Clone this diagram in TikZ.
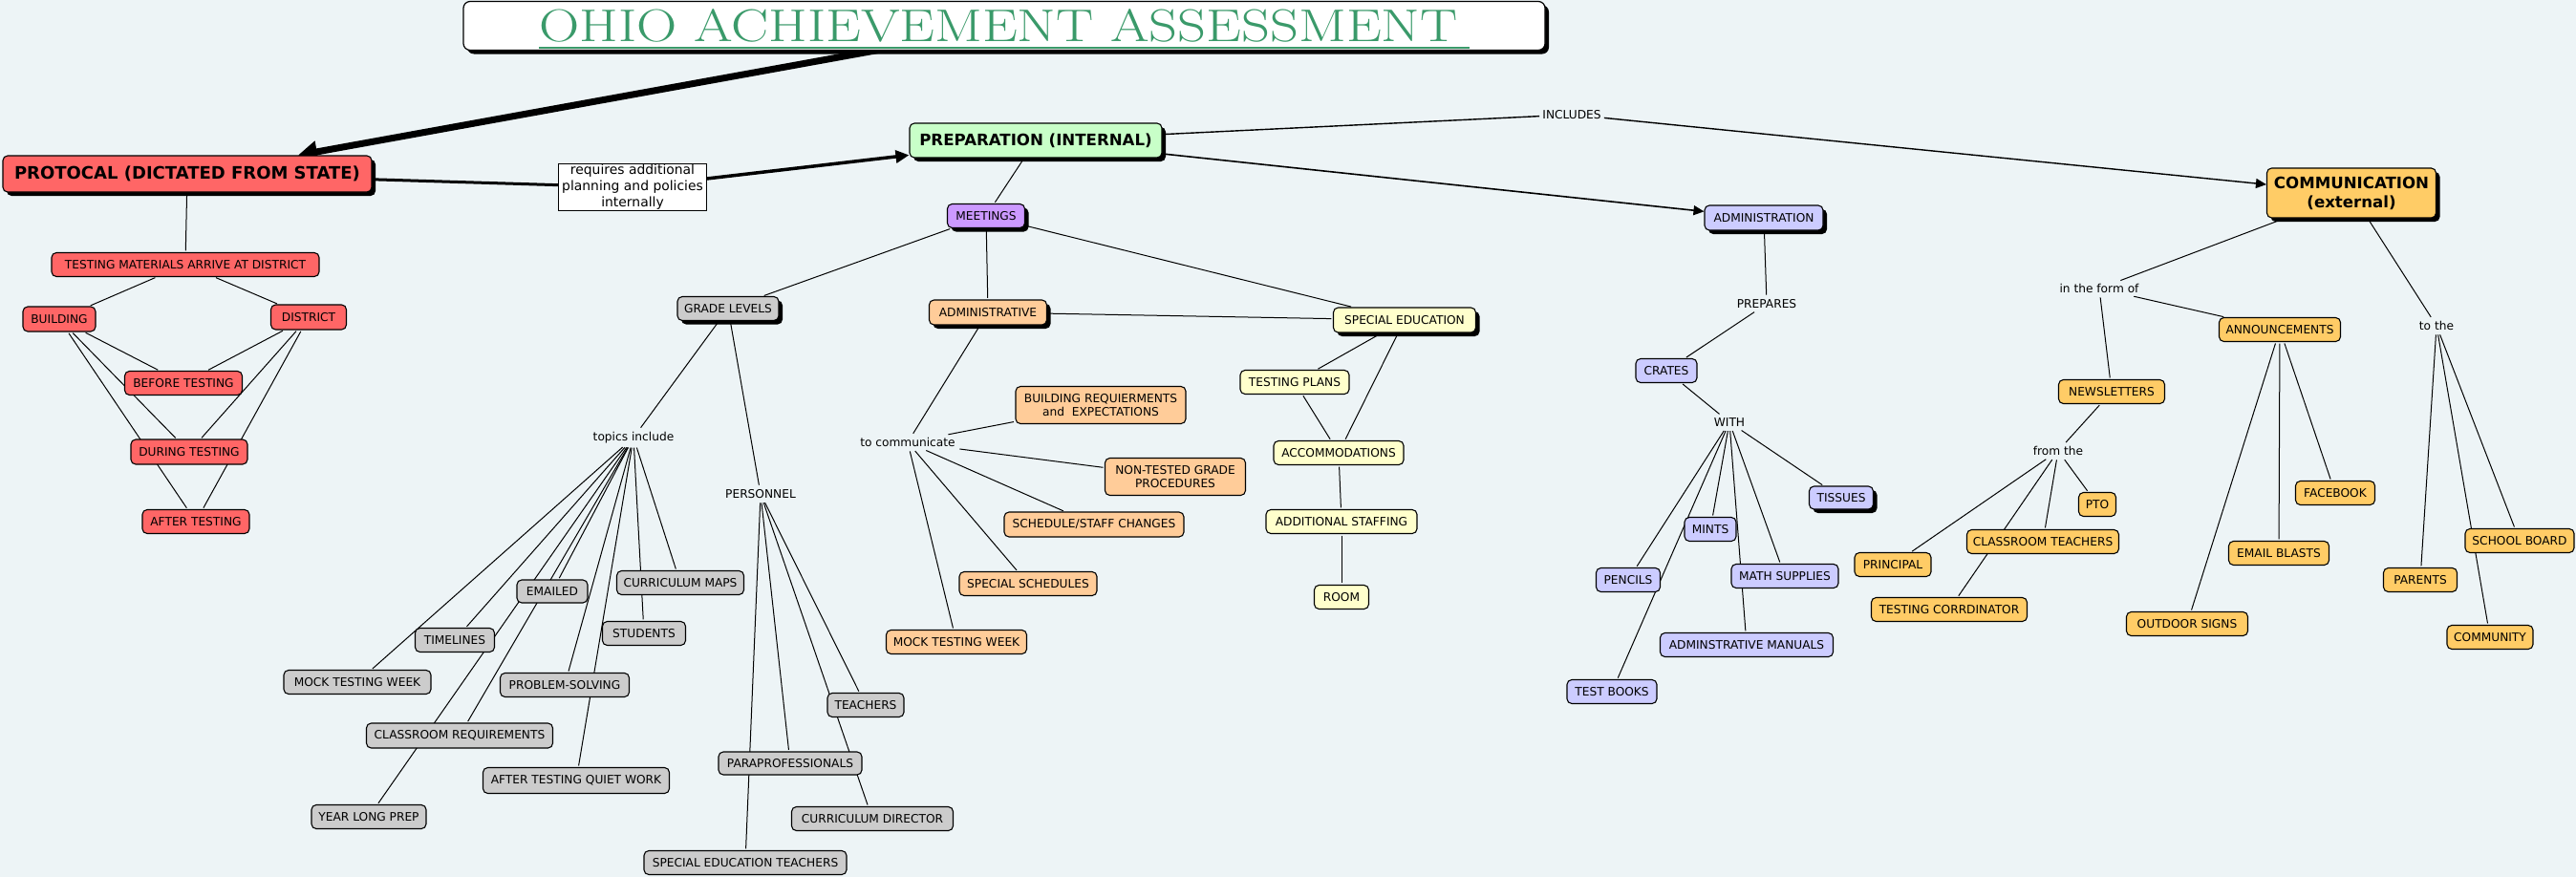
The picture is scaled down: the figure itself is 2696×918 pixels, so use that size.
\documentclass[tikz,border=0pt]{standalone}
\usepackage{fontspec}
\usepackage{graphicx}
\setmainfont{DejaVu Sans}
\usetikzlibrary{arrows.meta,shadows}
\pgfdeclarelayer{bg}\pgfdeclarelayer{edges}\pgfsetlayers{bg,edges,main}
\newcommand\nfont{\fontsize{12.2}{14.3}\selectfont}
\newcommand\bfontL{\fontsize{18}{21}\selectfont\bfseries}
\newcommand\bfontM{\fontsize{16.6}{20}\selectfont\bfseries}
\newcommand\rfont{\fontsize{13.9}{17}\selectfont}
\definecolor{bgc}{HTML}{EDF4F6}
\definecolor{cred}{HTML}{FF6666}
\definecolor{cgreen}{HTML}{C8FFC8}
\definecolor{cpurple}{HTML}{CC99FF}
\definecolor{cpeach}{HTML}{FFCC99}
\definecolor{cyellow}{HTML}{FFFFCC}
\definecolor{cgray}{HTML}{CCCCCC}
\definecolor{cblue}{HTML}{CCCCFF}
\definecolor{corange}{HTML}{FFCC66}
\definecolor{ctitle}{HTML}{3A9A6A}
\begin{document}
\begin{tikzpicture}[x=1pt,y=-1pt,
  cbox/.style={draw=black, line width=1.1pt, rounded corners=5pt, inner xsep=1pt, inner ysep=0pt, minimum height=25pt, align=center, font=\nfont, text=black},
  sh/.style={drop shadow={shadow xshift=4pt, shadow yshift=-4pt, fill=black, opacity=1}},
  rbox/.style={cbox, fill=cred},
  gbox/.style={cbox, fill=cgray},
  pbox/.style={cbox, fill=cpeach},
  ybox/.style={cbox, fill=cyellow},
  bbox/.style={cbox, fill=cblue},
  obox/.style={cbox, fill=corange},
  lab/.style={font=\nfont, inner sep=3pt, text=black},
  conn/.style={line width=1pt, shorten <=1.5pt, shorten >=1.5pt}]
\useasboundingbox (0,0) rectangle (2696,918);
\begin{pgfonlayer}{bg}
\fill[bgc] (0,0) rectangle (2696,918);
\end{pgfonlayer}
% title
\node[draw=black, line width=1.2pt, rounded corners=7pt, fill=white, sh, minimum width=1132pt, minimum height=51pt, inner sep=0] (title) at (1051,27) {};
\node[inner sep=0, anchor=base, text=ctitle] (ttext) at (1045,43) {\scalebox{1.22}[1]{\fontfamily{lmr}\fontsize{48}{50}\selectfont OHIO ACHIEVEMENT ASSESSMENT}};
\draw[ctitle, line width=1.8pt] ([yshift=-7pt]ttext.base west) -- ([xshift=12pt,yshift=-7pt]ttext.base east);
% main concepts
\node[rbox, sh, minimum width=386pt, minimum height=38pt, font=\bfontL] (prot) at (196,182) {PROTOCAL (DICTATED FROM STATE)};
\node[draw=black, line width=1pt, fill=white, minimum width=155pt, minimum height=49pt, inner sep=0, align=center, font=\rfont] (req) at (662,196) {requires additional\\planning and policies\\internally};
\node[cbox, sh, fill=cgreen, minimum width=264pt, minimum height=36pt, font=\bfontM] (prep) at (1084,147) {PREPARATION (INTERNAL)};
\node[obox, sh, minimum width=177pt, minimum height=52pt, font=\bfontM] (comm) at (2461,202) {COMMUNICATION\\(external)};
% protocal subtree
\node[rbox, minimum width=280pt] (tmad) at (194,277) {TESTING MATERIALS ARRIVE AT DISTRICT};
\node[rbox, minimum width=76pt, minimum height=26pt] (bld) at (62,334) {BUILDING};
\node[rbox, minimum width=79pt, minimum height=26pt] (dst) at (323,332) {DISTRICT};
\node[rbox, minimum width=123pt] (bef) at (192,401) {BEFORE TESTING};
\node[rbox, minimum width=122pt, minimum height=26pt] (dur) at (198,473) {DURING TESTING};
\node[rbox, minimum width=112pt] (aft) at (205,546) {AFTER TESTING};
% preparation subtree
\node[cbox, sh, fill=cpurple, minimum width=81pt] (meet) at (1032,226) {MEETINGS};
\node[gbox, sh, minimum width=106pt] (gl) at (762,323) {GRADE LEVELS};
\node[pbox, sh, minimum width=123pt, minimum height=26pt] (adm) at (1034,327) {ADMINISTRATIVE};
\node[ybox, sh, minimum width=149pt, minimum height=26pt] (se) at (1470,335) {SPECIAL EDUCATION};
\node[bbox, sh, minimum width=124pt, minimum height=26pt] (admn) at (1846,228) {ADMINISTRATION};
% linking phrases
\node[lab] (incl) at (1645,120) {INCLUDES};
\node[lab] (prepares) at (1849,318) {PREPARES};
\node[lab] (with) at (1810,442) {WITH};
\node[lab] (inform) at (2197,302) {in the form of};
\node[lab] (tothe) at (2550,341) {to the};
\node[lab] (fromthe) at (2154,472) {from the};
\node[lab] (tocomm) at (950,463) {to communicate};
\node[lab] (tinc) at (663,458) {topics include};
\node[lab] (pers) at (796,517) {PERSONNEL};
% grade levels
\node[gbox, minimum width=74pt, minimum height=24pt] (em) at (578,619) {EMAILED};
\node[gbox, minimum width=133pt] (cm) at (712,610) {CURRICULUM MAPS};
\node[gbox, minimum width=83pt] (tl) at (476,670) {TIMELINES};
\node[gbox, minimum width=87pt] (stu) at (674,663) {STUDENTS};
\node[gbox, minimum width=135pt] (ps) at (591,717) {PROBLEM-SOLVING};
\node[gbox, minimum width=154pt] (mtwa) at (374,714) {MOCK TESTING WEEK};
\node[gbox, minimum width=195pt, minimum height=26pt] (cr) at (481,770) {CLASSROOM REQUIREMENTS};
\node[gbox, minimum width=195pt, minimum height=27pt] (atqw) at (603,817) {AFTER TESTING QUIET WORK};
\node[gbox, minimum width=120pt] (ylp) at (386,855) {YEAR LONG PREP};
\node[gbox, minimum width=80pt] (tea) at (906,738) {TEACHERS};
\node[gbox, minimum width=150pt, minimum height=24pt] (para) at (827,799) {PARAPROFESSIONALS};
\node[gbox, minimum width=169pt] (cd) at (913,857) {CURRICULUM DIRECTOR};
\node[gbox, minimum width=212pt] (setch) at (780,903) {SPECIAL EDUCATION TEACHERS};
% administrative
\node[pbox, minimum width=178pt, minimum height=39pt] (breq) at (1152,424) {BUILDING REQUIERMENTS\\and\ \ EXPECTATIONS};
\node[pbox, minimum width=147pt, minimum height=39pt] (ntg) at (1230,499) {NON-TESTED GRADE\\PROCEDURES};
\node[pbox, minimum width=188pt, minimum height=26pt] (ssc) at (1145,549) {SCHEDULE/STAFF CHANGES};
\node[pbox, minimum width=144pt] (ssch) at (1076,611) {SPECIAL SCHEDULES};
\node[pbox, minimum width=147pt] (mtwb) at (1001,672) {MOCK TESTING WEEK};
% special education
\node[ybox, minimum width=114pt] (tp) at (1355,400) {TESTING PLANS};
\node[ybox, minimum width=136pt] (acc) at (1401,474) {ACCOMMODATIONS};
\node[ybox, minimum width=158pt] (ast) at (1404,546) {ADDITIONAL STAFFING};
\node[ybox, minimum width=57pt] (room) at (1404,625) {ROOM};
% administration
\node[bbox, minimum width=64pt] (crates) at (1744,388) {CRATES};
\node[bbox, sh, minimum width=67pt, minimum height=24pt] (tis) at (1927,521) {TISSUES};
\node[bbox, minimum width=54pt] (mints) at (1790,554) {MINTS};
\node[bbox, minimum width=67pt] (pen) at (1704,607) {PENCILS};
\node[bbox, minimum width=112pt] (math) at (1868,603) {MATH SUPPLIES};
\node[bbox, minimum width=181pt] (am) at (1828,675) {ADMINSTRATIVE MANUALS};
\node[bbox, minimum width=94pt] (tb) at (1687,724) {TEST BOOKS};
% communication
\node[obox, minimum width=111pt] (news) at (2210,410) {NEWSLETTERS};
\node[obox, minimum width=127pt] (ann) at (2386,345) {ANNOUNCEMENTS};
\node[obox, minimum width=39pt] (pto) at (2195,528) {PTO};
\node[obox, minimum width=159pt] (ct) at (2138,567) {CLASSROOM TEACHERS};
\node[obox, minimum width=80pt] (prin) at (1981,591) {PRINCIPAL};
\node[obox, minimum width=163pt] (tc) at (2040,638) {TESTING CORRDINATOR};
\node[obox, minimum width=127pt] (os) at (2289,653) {OUTDOOR SIGNS};
\node[obox, minimum width=105pt] (eb) at (2385,579) {EMAIL BLASTS};
\node[obox, minimum width=83pt] (fb) at (2444,516) {FACEBOOK};
\node[obox, minimum width=77pt] (par) at (2533,607) {PARENTS};
\node[obox, minimum width=114pt] (sb) at (2637,566) {SCHOOL BOARD};
\node[obox, minimum width=90pt] (cmty) at (2606,667) {COMMUNITY};
% connectors
\begin{pgfonlayer}{edges}
\draw[line width=7pt, -{Triangle[length=20pt,width=22pt]}] ([xshift=-119pt,yshift=3pt]title.south) -- ([xshift=116pt]prot.north);
\draw[line width=3pt] (prot) -- (req);
\draw[line width=3.5pt, -{Triangle[length=14pt,width=13pt]}] (req) -- (prep);
\draw[line width=1.6pt, -{Triangle[length=11pt,width=10pt]}] (prep) -- (admn);
\draw[line width=1.4pt] (prep) -- (incl);
\draw[line width=1.4pt, -{Triangle[length=11pt,width=10pt]}] (incl) -- (comm);
\draw[conn] (prep) -- (meet);
\draw[conn] (meet) -- (gl);
\draw[conn] (meet) -- (adm);
\draw[conn] (meet) -- (se);
\draw[conn] (adm) -- (se);
\draw[conn] (prot) -- (tmad);
\draw[conn] (tmad) -- (bld);
\draw[conn] (tmad) -- (dst);
\draw[conn] (bld) -- (bef);
\draw[conn] (bld) -- (dur);
\draw[conn] (bld) -- (aft);
\draw[conn] (dst) -- (bef);
\draw[conn] (dst) -- (dur);
\draw[conn] (dst) -- (aft);
\draw[conn] (gl) -- (tinc);
\draw[conn] (gl) -- (pers);
\foreach \t in {mtwa,tl,ylp,cr,em,ps,atqw,stu,cm} \draw[conn] (tinc) -- (\t);
\foreach \t in {setch,para,cd,tea} \draw[conn] (pers) -- (\t);
\draw[conn] (adm) -- (tocomm);
\foreach \t in {breq,ntg,ssc,ssch,mtwb} \draw[conn] (tocomm) -- (\t);
\draw[conn] (se) -- (tp);
\draw[conn] (se) -- (acc);
\draw[conn] (tp) -- (acc);
\draw[conn] (acc) -- (ast);
\draw[conn] (ast) -- (room);
\draw[conn] (admn) -- (prepares);
\draw[conn] (prepares) -- (crates);
\draw[conn] (crates) -- (with);
\foreach \t in {pen,tb,mints,am,math,tis} \draw[conn] (with) -- (\t);
\draw[conn] (comm) -- (inform);
\draw[conn] (inform) -- (news);
\draw[conn] (inform) -- (ann);
\draw[conn] (news) -- (fromthe);
\foreach \t in {prin,ct,tc,pto} \draw[conn] (fromthe) -- (\t);
\foreach \t in {os,eb,fb} \draw[conn] (ann) -- (\t);
\draw[conn] (comm) -- (tothe);
\foreach \t in {par,sb,cmty} \draw[conn] (tothe) -- (\t);
\end{pgfonlayer}
\end{tikzpicture}
\end{document}
